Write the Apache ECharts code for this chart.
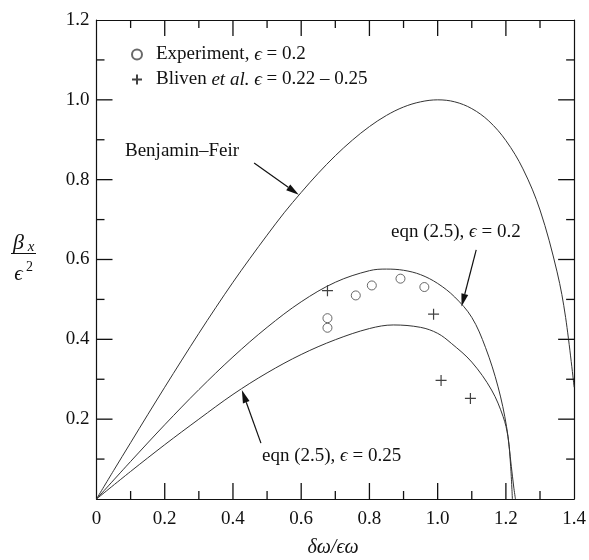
<!DOCTYPE html>
<html>
<head>
<meta charset="utf-8">
<script src="https://cdn.jsdelivr.net/npm/echarts@6/dist/echarts.min.js"></script>
<style>
  html, body { margin: 0; background: #fff; }
  #chart { width: 589px; height: 560px; }
</style>
</head>
<body>
<div id="chart"></div>
<script>
// curves: [x, y]
var benjaminFeir = [[0,0],[0.05,0.071],[0.1,0.141],[0.15,0.211],[0.2,0.28],[0.25,0.348],[0.3,0.415],
  [0.35,0.48],[0.4,0.543],[0.45,0.603],[0.5,0.661],[0.55,0.717],[0.6,0.768],[0.65,0.816],[0.7,0.86],
  [0.75,0.899],[0.8,0.933],[0.85,0.961],[0.9,0.982],[0.95,0.995],[1.0,1.0],[1.05,0.995],[1.1,0.978],
  [1.15,0.947],[1.2,0.898],[1.25,0.827],[1.3,0.724],[1.35,0.569],[1.375,0.455],[1.4,0.28]];
var eqnEps020 = [[0,0],[0.1,0.094],[0.2,0.186],[0.3,0.274],[0.4,0.356],[0.5,0.43],[0.6,0.494],
  [0.7,0.543],[0.8,0.572],[0.85,0.576],[0.9,0.573],[0.95,0.562],[1.0,0.54],[1.05,0.506],[1.1,0.455],
  [1.14,0.38],[1.177,0.281],[1.202,0.181],[1.216,0.081],[1.223,0.03],[1.228,0]];
var eqnEps025 = [[0,0],[0.1,0.069],[0.2,0.136],[0.3,0.2],[0.4,0.262],[0.5,0.316],[0.6,0.362],
  [0.7,0.399],[0.8,0.427],[0.87,0.436],[0.95,0.43],[1.0,0.415],[1.04,0.39],[1.1,0.343],[1.158,0.273],
  [1.192,0.206],[1.206,0.156],[1.214,0.081],[1.219,0]];
var experiment = [[0.677,0.453],[0.677,0.429],[0.76,0.51],[0.807,0.535],[0.891,0.552],[0.961,0.531]];
var bliven = [[0.677,0.522],[0.988,0.463],[1.01,0.297],[1.096,0.252]];

// tick positions (data units)
var xMajor = [0.2, 0.4, 0.6, 0.8, 1.0, 1.2];
var xMinor = [0.1, 0.3, 0.5, 0.7, 0.9, 1.1, 1.3];
var yMajor = [0.2, 0.4, 0.6, 0.8, 1.0];
var yMinor = [0.1, 0.3, 0.5, 0.7, 0.9, 1.1];

// arrows: [from, to] in data units
var arrows = [
  [[0.462,0.842],[0.593,0.762]],
  [[1.113,0.624],[1.07,0.482]],
  [[0.482,0.14],[0.426,0.273]]
];

var SERIF = '"Liberation Serif", "Times New Roman", serif';
var INK = '#111';

var chart = echarts.init(document.getElementById('chart'));

function baseAxis(pos, showLabel, fmt) {
  return {
    type: 'value',
    position: pos,
    min: 0,
    max: (pos === 'bottom' || pos === 'top') ? 1.4 : 1.2,
    interval: 0.2,
    splitLine: { show: false },
    axisLine: { show: true, onZero: false, lineStyle: { color: INK, width: 1.2 } },
    axisTick: { show: false },
    axisLabel: {
      show: showLabel,
      color: INK,
      fontFamily: SERIF,
      fontSize: 19,
      margin: pos === 'left' ? 7 : 11,
      formatter: fmt
    }
  };
}

var rich = {
  n: { fontFamily: SERIF, fontSize: 19, color: INK },
  i: { fontFamily: SERIF, fontSize: 19, fontStyle: 'italic', color: INK }
};

function curve(data) {
  return { type: 'line', data: data, showSymbol: false, smooth: 0.35,
    lineStyle: { color: '#333', width: 1 } };
}

chart.setOption({
  animation: false,
  grid: { left: 96.5, right: 12, top: 20, bottom: 61 },
  xAxis: [
    baseAxis('bottom', true, function (v) { return v === 0 ? '0' : v.toFixed(1); }),
    baseAxis('top', false)
  ],
  yAxis: [
    baseAxis('left', true, function (v) { return v === 0 ? '' : v.toFixed(1); }),
    baseAxis('right', false)
  ],
  legend: {
    orient: 'vertical',
    left: 126,
    top: 40,
    itemWidth: 10,
    itemHeight: 10,
    itemGap: 6,
    selectedMode: false,
    data: ['exp', 'bliven'],
    formatter: function (name) {
      if (name === 'exp') return '{n|Experiment, }{i|ϵ}{n| = 0.2}';
      return '{n|Bliven }{i|et al.}{n| }{i|ϵ}{n| = 0.22 – 0.25}';
    },
    textStyle: { padding: [0, 0, 0, 9], rich: rich }
  },
  series: [
    curve(benjaminFeir),
    curve(eqnEps020),
    curve(eqnEps025),
    { name: 'exp', type: 'scatter', data: experiment, symbol: 'circle', symbolSize: 9,
      itemStyle: { color: 'rgba(0,0,0,0)', borderColor: '#444', borderWidth: 1 } },
    { name: 'bliven', type: 'scatter', data: bliven, symbol: 'path://M5,0L5,10M0,5L10,5', symbolSize: 11,
      itemStyle: { color: 'rgba(0,0,0,0)', borderColor: '#111', borderWidth: 1.2 } },
    // keeps the top / right frame axes alive
    { type: 'line', data: [], xAxisIndex: 1, yAxisIndex: 1 }
  ]
});

var g = [];
function seg(a, b, w) {
  g.push({ type: 'line', z: 10, shape: { x1: a[0], y1: a[1], x2: b[0], y2: b[1] },
    style: { stroke: INK, lineWidth: w } });
}
function px(p) { return chart.convertToPixel({ gridIndex: 0 }, p); }

// inward ticks on all four sides
function xTicks(vals, len) {
  vals.forEach(function (v) {
    var b = px([v, 0]), t = px([v, 1.2]);
    seg(b, [b[0], b[1] - len], 1.3);
    seg(t, [t[0], t[1] + len], 1.3);
  });
}
function yTicks(vals, len) {
  vals.forEach(function (v) {
    var l = px([0, v]), r = px([1.4, v]);
    seg(l, [l[0] + len, l[1]], 1.3);
    seg(r, [r[0] - len, r[1]], 1.3);
  });
}
xTicks(xMajor, 16); xTicks(xMinor, 8);
yTicks(yMajor, 16); yTicks(yMinor, 8);

// arrows
arrows.forEach(function (a) {
  var p0 = px(a[0]), p1 = px(a[1]);
  var dx = p1[0] - p0[0], dy = p1[1] - p0[1];
  var len = Math.sqrt(dx * dx + dy * dy);
  var ux = dx / len, uy = dy / len;
  var hl = 13, hw = 3.5;
  var bx = p1[0] - ux * hl, by = p1[1] - uy * hl;
  seg(p0, [bx, by], 1.2);
  g.push({ type: 'polygon', shape: { points: [p1, [bx - uy * hw, by + ux * hw], [bx + uy * hw, by - ux * hw]] },
    style: { fill: '#111' } });
});

function label(x, y, text) {
  return { type: 'text', x: x, y: y,
    style: { text: text, rich: rich, fontFamily: SERIF, fontSize: 19, fill: INK, textVerticalAlign: 'middle' } };
}
g.push(label(125, 151, '{n|Benjamin–Feir}'));
g.push(label(391, 232, '{n|eqn (2.5), }{i|ϵ}{n| = 0.2}'));
g.push(label(262, 456, '{n|eqn (2.5), }{i|ϵ}{n| = 0.25}'));

// axis titles
g.push({ type: 'text', x: 333, y: 548, style: { text: 'δω/ϵω', font: 'italic 20px ' + SERIF, fill: INK,
  textAlign: 'center', textVerticalAlign: 'middle' } });
g.push({ type: 'text', x: 18.5, y: 243, style: { text: 'β', font: 'italic 22px ' + SERIF, fill: INK,
  textAlign: 'center', textVerticalAlign: 'middle' } });
g.push({ type: 'text', x: 31, y: 247, style: { text: 'x', font: 'italic 15px ' + SERIF, fill: INK,
  textAlign: 'center', textVerticalAlign: 'middle' } });
g.push({ type: 'line', shape: { x1: 11, y1: 253.5, x2: 36, y2: 253.5 }, style: { stroke: INK, lineWidth: 1 } });
g.push({ type: 'text', x: 18.5, y: 274, style: { text: 'ϵ', font: 'italic 21px ' + SERIF, fill: INK,
  textAlign: 'center', textVerticalAlign: 'middle' } });
g.push({ type: 'text', x: 29.5, y: 267, style: { text: '2', font: '14px ' + SERIF, fill: INK,
  textAlign: 'center', textVerticalAlign: 'middle' } });

chart.setOption({ graphic: g });
</script>
</body>
</html>
